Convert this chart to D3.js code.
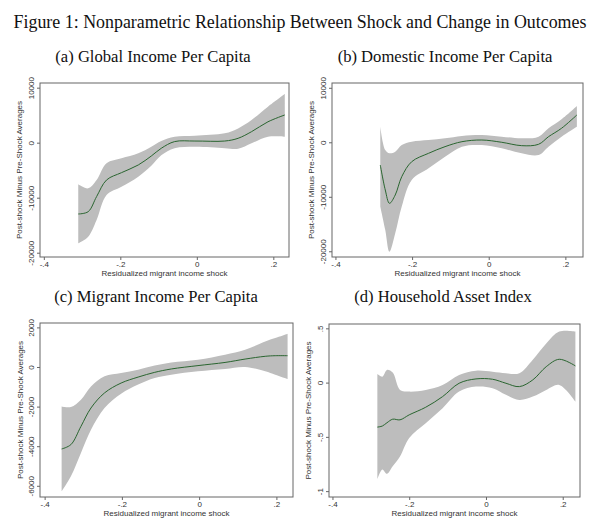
<!DOCTYPE html>
<html><head><meta charset="utf-8">
<script src="https://cdn.jsdelivr.net/npm/d3@7"></script>
<style>body{margin:0;background:#fff}svg{display:block}</style>
</head><body>
<script>
// ---- data ----
const mainTitle = "Figure 1: Nonparametric Relationship Between Shock and Change in Outcomes";
const panelTitles = ["(a) Global Income Per Capita","(b) Domestic Income Per Capita","(c) Migrant Income Per Capita","(d) Household Asset Index"];
const xLabel = "Residualized migrant income shock";
const yLabel = "Post-shock Minus Pre-Shock Averages";
const xTicks = [-0.4,-0.2,0,0.2];
const yTicksAB = [10000,0,-10000,-20000];
const yTicksC = [2000,0,-2000,-4000,-6000];
const yTicksD = [0.5,0,-0.5,-1];

const xA = [-0.310,-0.284,-0.262,-0.236,-0.197,-0.153,-0.119,-0.093,-0.058,-0.005,0.073,0.108,0.143,0.186,0.230];
const fitA = [-12960,-12540,-9800,-6780,-5450,-4050,-2420,-1020,200,300,300,800,2000,3800,5040];
const hiA = [-7570,-8300,-6800,-3750,-2840,-1930,-730,300,1100,1270,1700,2600,4130,6550,8850];
const loA = [-18300,-17100,-14050,-9500,-8000,-6180,-4200,-2300,-1000,-730,-1000,-1100,-100,1100,1100];

const xB = [-0.283,-0.270,-0.259,-0.244,-0.227,-0.201,-0.157,-0.114,-0.070,-0.018,0.034,0.086,0.130,0.156,0.190,0.230];
const fitB = [-4170,-8750,-11200,-9670,-6310,-3560,-2020,-800,110,420,0,-620,-370,1030,2570,5010];
const hiB = [2870,-1410,-2020,-1720,-500,110,420,730,1160,1340,1030,730,1030,2570,4220,6660];
const loB = [-11800,-16090,-20070,-16700,-11800,-6920,-4770,-2640,-800,-500,-1100,-2020,-2330,-800,1030,2870];

const xC = [-0.356,-0.332,-0.306,-0.280,-0.245,-0.202,-0.158,-0.115,-0.072,-0.003,0.067,0.119,0.171,0.197,0.229];
const fitC = [-4140,-3920,-3000,-2070,-1310,-810,-510,-270,-100,70,230,400,540,570,570];
const hiC = [-1990,-2020,-1650,-980,-470,-300,-140,70,230,370,620,870,1290,1460,1680];
const loC = [-6280,-5520,-4340,-3170,-2070,-1350,-890,-560,-390,-220,-100,0,-220,-390,-610];

const xD = [-0.283,-0.270,-0.258,-0.243,-0.224,-0.200,-0.157,-0.113,-0.070,-0.026,0.017,0.052,0.087,0.122,0.157,0.191,0.233];
const fitD = [-0.41,-0.40,-0.37,-0.337,-0.343,-0.297,-0.227,-0.129,-0.006,0.034,0.031,-0.006,-0.037,0.025,0.147,0.215,0.154];
const hiD = [0.08,0.055,0.117,0.092,-0.067,-0.083,-0.067,-0.021,0.071,0.11,0.10,0.086,0.086,0.21,0.36,0.47,0.47];
const loD = [-0.89,-0.80,-0.84,-0.77,-0.68,-0.51,-0.374,-0.236,-0.083,-0.037,-0.052,-0.113,-0.16,-0.129,-0.067,-0.021,-0.175];

// ---- layout ----
const panels = [
  {x:xA, fit:fitA, hi:hiA, lo:loA, yt:yTicksAB, xd:[-0.410,0.241], yd:[-20780,10850], f:{l:40,t:83,r:289,b:257}, tx:153, ty:62, ylx:22},
  {x:xB, fit:fitB, hi:hiB, lo:loB, yt:yTicksAB, xd:[-0.409,0.246], yd:[-21050,10880], f:{l:332,t:83,r:583,b:257}, tx:445, ty:62, ylx:314},
  {x:xC, fit:fitC, hi:hiC, lo:loC, yt:yTicksC, xd:[-0.412,0.243], yd:[-6566,2222], f:{l:40,t:323,r:293,b:497}, tx:156, ty:302, ylx:23},
  {x:xD, fit:fitD, hi:hiD, lo:loD, yt:yTicksD, xd:[-0.409,0.245], yd:[-1.054,0.54], f:{l:329,t:324,r:580,b:497}, tx:443, ty:302, ylx:311}
];

const W = 600, H = 525;
const svg = d3.select("body").append("svg").attr("width",W).attr("height",H);

svg.append("text").attr("x",300).attr("y",28).attr("text-anchor","middle")
  .attr("font-family","Liberation Serif, Times New Roman, serif").attr("font-size",17.9)
  .attr("fill","#111").text(mainTitle);

const fmt = v => { if (v===0) return "0"; let s = String(v); return s.replace(/^(-?)0\./,"$1."); };
const axisCol = "#666";
const sans = "Liberation Sans, Arial, sans-serif";

panels.forEach((p,i) => {
  const g = svg.append("g");
  const xs = d3.scaleLinear().domain(p.xd).range([p.f.l,p.f.r]);
  const ys = d3.scaleLinear().domain(p.yd).range([p.f.b,p.f.t]);

  g.append("text").attr("x",p.tx).attr("y",p.ty).attr("text-anchor","middle")
    .attr("font-family","Liberation Serif, Times New Roman, serif").attr("font-size",16.6)
    .attr("fill","#111").text(panelTitles[i]);

  const pts = p.x.map((x,k)=>({x, fit:p.fit[k], hi:p.hi[k], lo:p.lo[k]}));
  const curve = d3.curveCatmullRom.alpha(0.5);
  g.append("path").datum(pts)
    .attr("d", d3.area().x(d=>xs(d.x)).y0(d=>ys(d.lo)).y1(d=>ys(d.hi)).curve(curve))
    .attr("fill","#bdbdbd");
  g.append("path").datum(pts)
    .attr("d", d3.line().x(d=>xs(d.x)).y(d=>ys(d.fit)).curve(curve))
    .attr("fill","none").attr("stroke","#2a6530").attr("stroke-width",1);

  g.append("rect").attr("x",p.f.l).attr("y",p.f.t).attr("width",p.f.r-p.f.l).attr("height",p.f.b-p.f.t)
    .attr("fill","none").attr("stroke",axisCol).attr("stroke-width",1);

  const xa = g.append("g").attr("transform",`translate(0,${p.f.b})`)
    .call(d3.axisBottom(xs).tickValues(xTicks).tickFormat(fmt).tickSize(3).tickSizeOuter(0).tickPadding(1));
  xa.select(".domain").remove();
  xa.selectAll("line").attr("stroke",axisCol);
  xa.selectAll("text").attr("font-family",sans).attr("font-size",8).attr("fill","#333");

  const ya = g.append("g").attr("transform",`translate(${p.f.l},0)`)
    .call(d3.axisLeft(ys).tickValues(p.yt).tickFormat(fmt).tickSize(3).tickSizeOuter(0));
  ya.select(".domain").remove();
  ya.selectAll("line").attr("stroke",axisCol);
  ya.selectAll("text").attr("font-family",sans).attr("font-size",8).attr("fill","#333")
    .attr("x",null).attr("dy",null)
    .attr("text-anchor","middle")
    .attr("transform","translate(-6,0) rotate(-90)");

  g.append("text").attr("x",(p.f.l+p.f.r)/2).attr("y",p.f.b+18.5).attr("text-anchor","middle")
    .attr("font-family",sans).attr("font-size",8).attr("fill","#333").text(xLabel);
  g.append("text").attr("transform",`translate(${p.ylx},${(p.f.t+p.f.b)/2}) rotate(-90)`)
    .attr("text-anchor","middle").attr("font-family",sans).attr("font-size",8).attr("fill","#333").text(yLabel);
});
</script>
</body></html>
